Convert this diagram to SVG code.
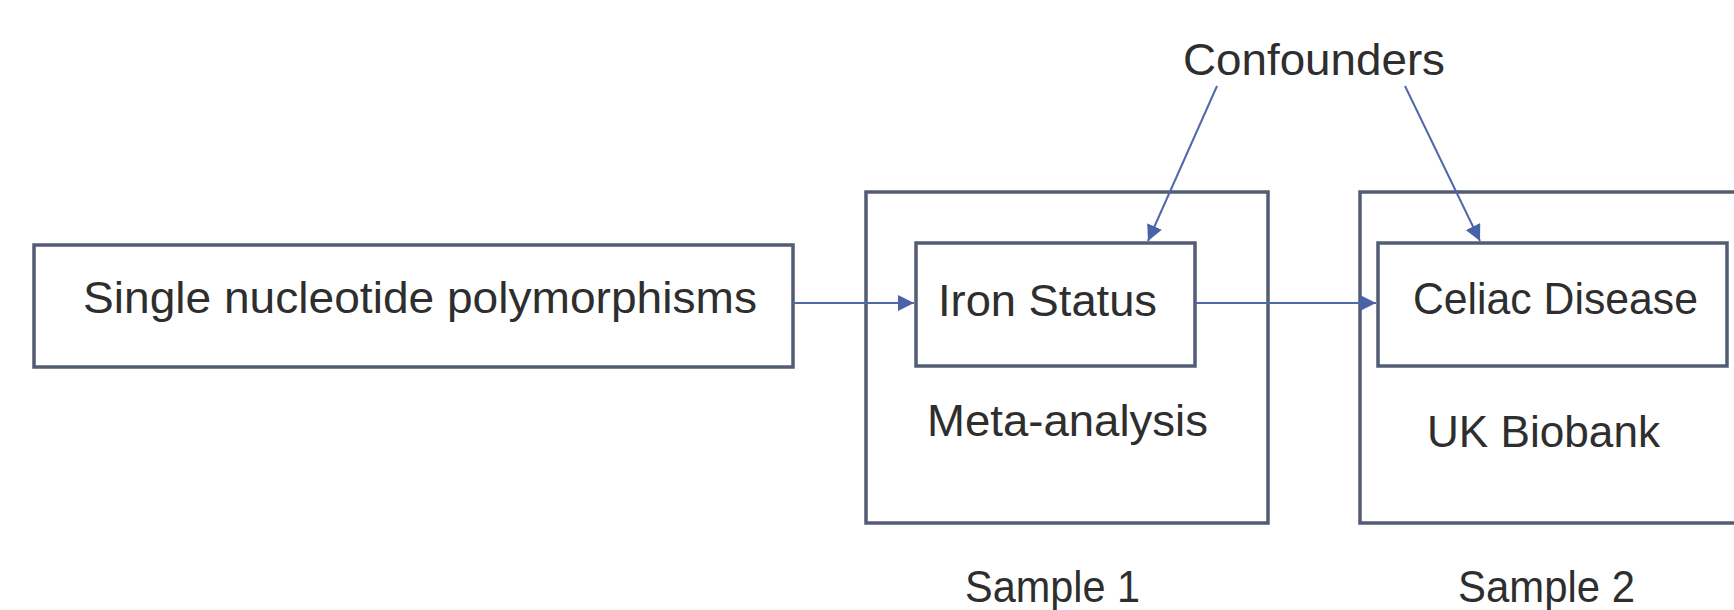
<svg xmlns="http://www.w3.org/2000/svg" width="1734" height="610" viewBox="0 0 1734 610">
<defs>
<style>
.box{fill:none;stroke:#525c74;stroke-width:3.5}
.t{font-family:"Liberation Sans",Arial,sans-serif;font-size:44px;fill:#2e2e2e}
.c{stroke:#5068a8;stroke-width:2;fill:none}
</style>
<marker id="ah" viewBox="0 0 10 10" refX="10" refY="5" markerWidth="8" markerHeight="8" markerUnits="strokeWidth" orient="auto">
<path d="M0,0 L10,5 L0,10 z" fill="#4a62a8"/>
</marker>
</defs>
<rect width="1734" height="610" fill="#ffffff"/>
<g id="snp">
<rect class="box" x="34" y="245" width="759" height="122"/>
<text class="t" x="83" y="313" textLength="674" lengthAdjust="spacingAndGlyphs">Single nucleotide polymorphisms</text>
</g>
<g id="sample1">
<rect class="box" x="866" y="192" width="402" height="331"/>
<text class="t" x="927" y="436" textLength="281" lengthAdjust="spacingAndGlyphs">Meta-analysis</text>
<text class="t" x="965" y="602" textLength="175" lengthAdjust="spacingAndGlyphs">Sample 1</text>
</g>
<g id="iron">
<rect class="box" x="916" y="243" width="279" height="123"/>
<text class="t" x="938" y="316" textLength="219" lengthAdjust="spacingAndGlyphs">Iron Status</text>
</g>
<g id="sample2">
<rect class="box" x="1360" y="192" width="400" height="331"/>
<text class="t" x="1427" y="447" textLength="233" lengthAdjust="spacingAndGlyphs">UK Biobank</text>
<text class="t" x="1458" y="602" textLength="177" lengthAdjust="spacingAndGlyphs">Sample 2</text>
</g>
<g id="celiac">
<rect class="box" x="1378" y="243" width="349" height="123"/>
<text class="t" x="1413" y="314" textLength="285" lengthAdjust="spacingAndGlyphs">Celiac Disease</text>
</g>
<g id="confounders">
<text class="t" x="1183" y="75" textLength="262" lengthAdjust="spacingAndGlyphs">Confounders</text>
</g>
<g id="connectors">
<line class="c" x1="793" y1="303" x2="914" y2="303" marker-end="url(#ah)"/>
<line class="c" x1="1195" y1="303" x2="1376" y2="303" marker-end="url(#ah)"/>
<line class="c" x1="1217" y1="86" x2="1148" y2="241" marker-end="url(#ah)"/>
<line class="c" x1="1405" y1="86" x2="1480" y2="241" marker-end="url(#ah)"/>
</g>
</svg>
